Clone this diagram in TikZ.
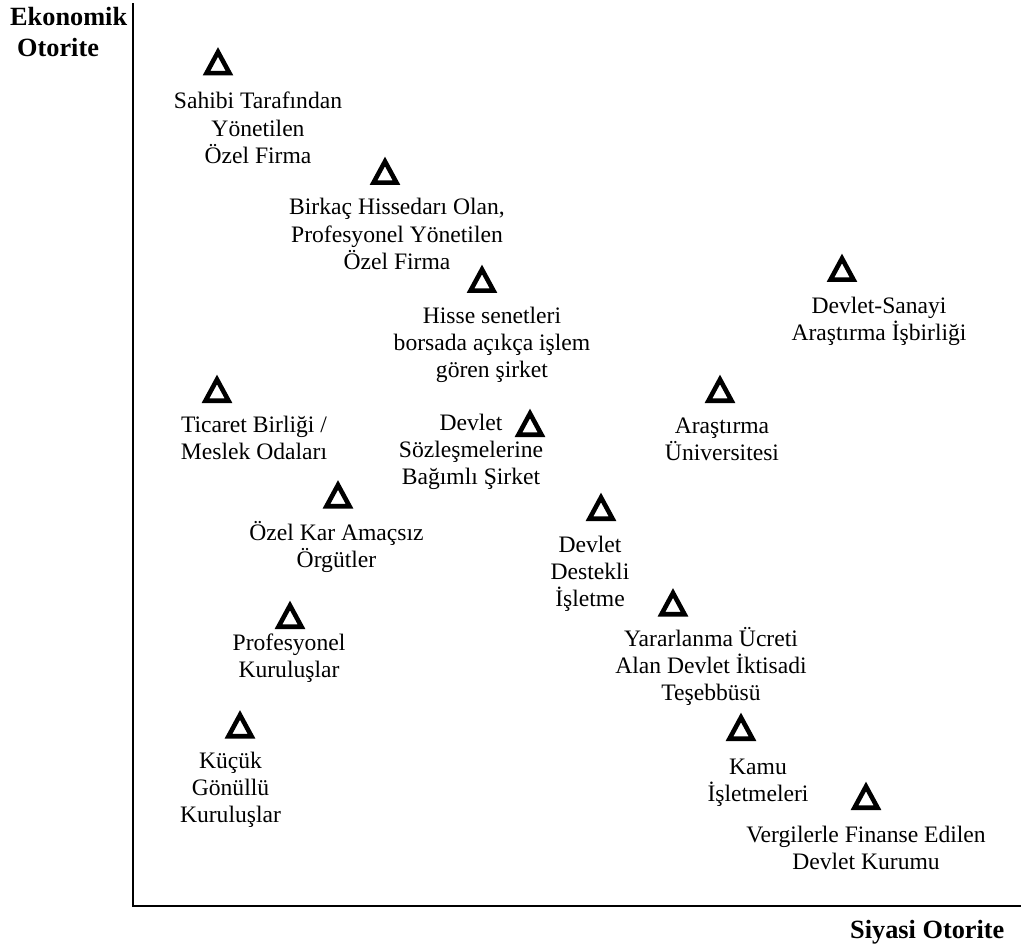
\documentclass[tikz,border=0pt]{standalone}
\usepackage{fontspec}
\setmainfont{Liberation Serif}
\begin{document}
\begin{tikzpicture}[x=1pt,y=-1pt,
  % captions are placed by the baseline of their last line
  lbl/.style={anchor=base, align=center, inner sep=0pt,
    font=\fontsize{23.6}{27.1}\selectfont},
  axlabel/.style={anchor=base west, inner sep=0pt,
    font=\bfseries\fontsize{26.3}{31}\selectfont},
  axisline/.style={line width=2pt, line cap=rect},
  tri/.pic={\draw[line width=4.6pt, line join=miter, miter limit=10]
    (-11.5,11.7) -- (11.5,11.7) -- (0,-9.5) -- cycle;}]
\useasboundingbox (0,0) rectangle (1021,952);

% axes
\coordinate (ytop) at (133,4);
\coordinate (origin) at (133,906);
\coordinate (xend) at (1021,906);
\draw[axisline] (ytop) -- (origin) -- (xend);
\node[axlabel] (ylab1) at (10,26) {Ekonomik};
\node[axlabel] (ylab2) at (17,57) {Otorite};
\node[axlabel] (xlab) at (850,938) {Siyasi Otorite};

% organisations: marker and caption
\coordinate (t1) at (218,61.5);  \pic at (t1) {tri};
\node[lbl] (l1) at (258,163.2) {Sahibi Tarafından\\Yönetilen\\Özel Firma};

\coordinate (t2) at (385,171);   \pic at (t2) {tri};
\node[lbl] (l2) at (397,269.2) {Birkaç Hissedarı Olan,\\Profesyonel Yönetilen\\Özel Firma};

\coordinate (t3) at (482,279);   \pic at (t3) {tri};
\node[lbl] (l3) at (492,377.2) {Hisse senetleri\\borsada açıkça işlem\\gören şirket};

\coordinate (t4) at (842,268);   \pic at (t4) {tri};
\node[lbl] (l4) at (879,340.1) {Devlet-Sanayi\\Araştırma İşbirliği};

\coordinate (t5) at (217,389);   \pic at (t5) {tri};
\node[lbl] (l5) at (254,459.1) {Ticaret Birliği /\\Meslek Odaları};

\coordinate (t6) at (530,423);   \pic at (t6) {tri};
\node[lbl] (l6) at (471,484.2) {Devlet\\Sözleşmelerine\\Bağımlı Şirket};

\coordinate (t7) at (720,389);   \pic at (t7) {tri};
\node[lbl] (l7) at (722,460.1) {Araştırma\\Üniversitesi};

\coordinate (t8) at (338,494.5); \pic at (t8) {tri};
\node[lbl] (l8) at (336.5,567.1) {Özel Kar Amaçsız\\Örgütler};

\coordinate (t9) at (601,507);   \pic at (t9) {tri};
\node[lbl] (l9) at (590,606.2) {Devlet\\Destekli\\İşletme};

\coordinate (t10) at (673,602.5); \pic at (t10) {tri};
\node[lbl] (l10) at (711,700.2) {Yararlanma Ücreti\\Alan Devlet İktisadi\\Teşebbüsü};

\coordinate (t11) at (290,615);  \pic at (t11) {tri};
\node[lbl] (l11) at (289,677.1) {Profesyonel\\Kuruluşlar};

\coordinate (t12) at (741,727);  \pic at (t12) {tri};
\node[lbl] (l12) at (758,801.1) {Kamu\\İşletmeleri};

\coordinate (t13) at (240,724.5); \pic at (t13) {tri};
\node[lbl] (l13) at (230.5,822.2) {Küçük\\Gönüllü\\Kuruluşlar};

\coordinate (t14) at (866,796);  \pic at (t14) {tri};
\node[lbl] (l14) at (866,869.1) {Vergilerle Finanse Edilen\\Devlet Kurumu};
\end{tikzpicture}
\end{document}
